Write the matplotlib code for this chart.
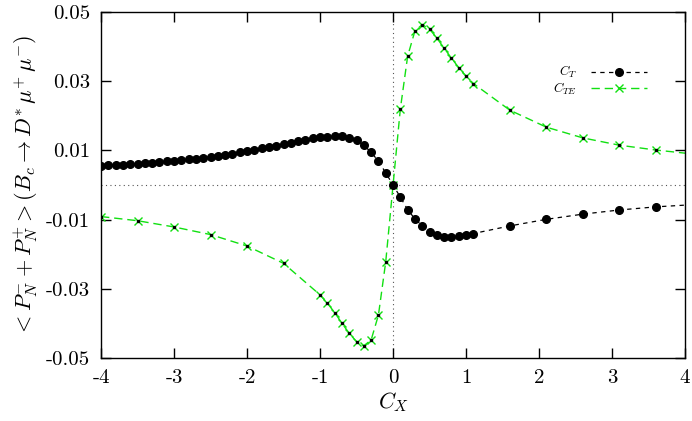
import matplotlib
matplotlib.use("Agg")
import matplotlib.pyplot as plt

plt.rcParams['font.family'] = 'cmr10'
plt.rcParams['mathtext.fontset'] = 'cm'
plt.rcParams['axes.unicode_minus'] = False
plt.rcParams['axes.formatter.use_mathtext'] = True

# ---------------- data ----------------
# C_T : dense points up to 1.1, then every 0.5; last entry is line only
ct_x = [-4.0, -3.9, -3.8, -3.7, -3.6, -3.5, -3.4, -3.3, -3.2, -3.1,
        -3.0, -2.9, -2.8, -2.7, -2.6, -2.5, -2.4, -2.3, -2.2, -2.1,
        -2.0, -1.9, -1.8, -1.7, -1.6, -1.5, -1.4, -1.3, -1.2, -1.1,
        -1.0, -0.9, -0.8, -0.7, -0.6, -0.5, -0.4, -0.3, -0.2, -0.1,
        0.0, 0.1, 0.2, 0.3, 0.4, 0.5, 0.6, 0.7, 0.8, 0.9, 1.0, 1.1,
        1.6, 2.1, 2.6, 3.1, 3.6, 4.0]
ct_y = [0.0056, 0.0057, 0.0058, 0.0059, 0.0060, 0.0062, 0.0063, 0.0065, 0.0066, 0.0068,
        0.0070, 0.0072, 0.0074, 0.0076, 0.0079, 0.0081, 0.0084, 0.0087, 0.0090, 0.0094,
        0.0098, 0.0102, 0.0106, 0.0109, 0.0113, 0.0117, 0.0122, 0.0127, 0.0131, 0.0135,
        0.0138, 0.0140, 0.0142, 0.0141, 0.0137, 0.0129, 0.0115, 0.0094, 0.0069, 0.0035,
        0.0, -0.0035, -0.0071, -0.0098, -0.0117, -0.0135, -0.0144, -0.0149, -0.0150, -0.0148,
        -0.0144, -0.0140,
        -0.0118, -0.0099, -0.0084, -0.0072, -0.0063, -0.0058]

# C_TE
cte_x = [-4.0, -3.5, -3.0, -2.5, -2.0, -1.5,
         -1.0, -0.9, -0.8, -0.7, -0.6, -0.5, -0.4, -0.3, -0.2, -0.1,
         0.0, 0.1, 0.2, 0.3, 0.4, 0.5, 0.6, 0.7, 0.8, 0.9, 1.0, 1.1,
         1.6, 2.1, 2.6, 3.1, 3.6, 4.0]
cte_y = [-0.0091, -0.0103, -0.0121, -0.0143, -0.0176, -0.0226,
         -0.0317, -0.0341, -0.0368, -0.0399, -0.0428, -0.0452, -0.0464, -0.0447, -0.0375, -0.0221,
         0.0, 0.0220, 0.0372, 0.0445, 0.0463, 0.0450, 0.0424, 0.0395, 0.0366, 0.0339, 0.0314, 0.0293,
         0.0216, 0.0167, 0.0136, 0.0115, 0.0101, 0.0092]

x_ticks = [-4, -3, -2, -1, 0, 1, 2, 3, 4]
y_ticks = [0.05, 0.03, 0.01, -0.01, -0.03, -0.05]
y_tick_labels = ["0.05", "0.03", "0.01", "-0.01", "-0.03", "-0.05"]

# ---------------- plot ----------------
fig = plt.figure(figsize=(6.92, 4.21), dpi=100)
ax = fig.add_axes([0.146, 0.149, 0.844, 0.823])

ax.axhline(0, color="#555555", lw=0.8, ls=(0, (1, 3)), zorder=1)
ax.axvline(0, color="#555555", lw=0.8, ls=(0, (1, 3)), zorder=1)

green = "#11e011"
n_te = len(cte_x)
ax.plot(cte_x, cte_y, color=green, lw=1.0, dashes=(6, 3.5),
        marker="x", ms=6, mew=1.0, markevery=slice(0, n_te - 1),
        label=r"$C_{TE}$", zorder=2)
ax.plot(cte_x[:-1], cte_y[:-1], ls="none", marker="s", ms=1.4,
        color="black", zorder=3)

n_t = len(ct_x)
ax.plot(ct_x, ct_y, color="black", lw=0.9, dashes=(3.5, 3.5),
        marker="o", ms=5.5, markevery=slice(0, n_t - 1),
        label=r"$C_T$", zorder=4)

ax.set_xlim(-4, 4)
ax.set_ylim(-0.05, 0.05)
ax.set_xticks(x_ticks)
ax.set_xticklabels([str(t) for t in x_ticks])
ax.set_yticks(y_ticks)
ax.set_yticklabels(y_tick_labels)

ax.tick_params(direction="in", length=7, width=1.0, top=True, right=True,
               labelsize=15, pad=8)
for s in ax.spines.values():
    s.set_linewidth(1.0)

ax.set_xlabel(r"$C_X$", fontsize=16, labelpad=2)
ax.set_ylabel(r"$< P_N^{-} + P_N^{+} > (B_c \rightarrow D^{*}\,\mu^{+}\,\mu^{-})$",
              fontsize=16, labelpad=4)

h, l = ax.get_legend_handles_labels()
ax.legend(h[::-1], l[::-1], loc="upper right",
          bbox_to_anchor=(656 / 692, 1 - 55 / 421), bbox_transform=fig.transFigure,
          frameon=False, markerfirst=False, fontsize=9.5, handlelength=4.2,
          labelspacing=0.0, handletextpad=1.1, borderpad=0.2)

fig.savefig("out.png", dpi=100)
